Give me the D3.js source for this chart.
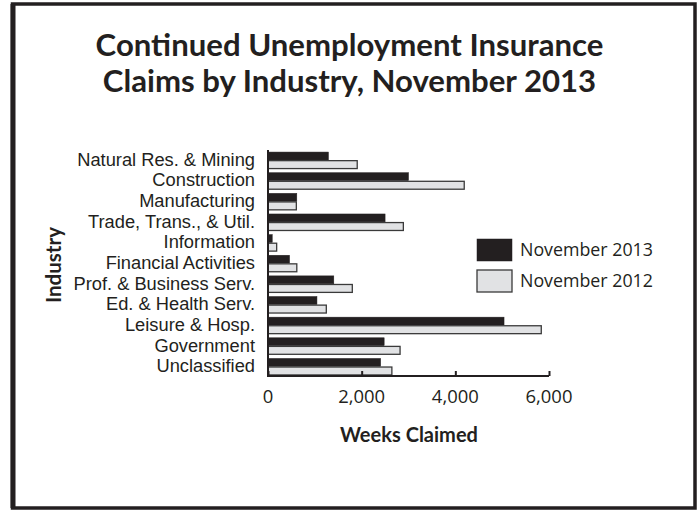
<!DOCTYPE html>
<html>
<head>
<meta charset="utf-8">
<script src="https://cdn.jsdelivr.net/npm/d3@7"></script>
<style>
  html, body { margin: 0; padding: 0; background: #fff; }
  svg { display: block; }
  text { font-family: "Open Sans", "Noto Sans", sans-serif; fill: #231f20; }
  text.bold { font-family: Lato, "Open Sans", sans-serif; font-weight: 700; }
  text.cat { font-family: "Liberation Sans", Arial, sans-serif; }
</style>
</head>
<body>
<svg id="chart" width="698" height="510"></svg>
<script>
const categories = ["Natural Res. & Mining", "Construction", "Manufacturing", "Trade, Trans., & Util.",
  "Information", "Financial Activities", "Prof. & Business Serv.", "Ed. & Health Serv.",
  "Leisure & Hosp.", "Government", "Unclassified"];
const seriesNames = ["November 2013", "November 2012"];
const nov2013 = [1290, 3000, 615, 2500, 90, 460, 1405, 1045, 5040, 2480, 2405];
const nov2012 = [1905, 4190, 605, 2890, 185, 615, 1800, 1245, 5835, 2820, 2645];
const xTicks = [0, 2000, 4000, 6000];
const titleLines = ["Continued Unemployment Insurance", "Claims by Industry, November 2013"];
const xTitle = "Weeks Claimed";
const yTitle = "Industry";

const dark = "#231f20";
const light = "#e1e2e4";
const svg = d3.select("#chart");

function fit(sel, target, maxSize) {
  const base = 20;
  sel.attr("font-size", base);
  const len = sel.node().getComputedTextLength();
  let size = base * target / len;
  if (maxSize) size = Math.min(size, maxSize);
  sel.attr("font-size", size);
  return size;
}

// frame
svg.append("rect").attr("x", 12.5).attr("y", 4).attr("width", 682.5).attr("height", 504)
  .attr("fill", "none").attr("stroke", dark).attr("stroke-width", 3.5);
svg.append("line").attr("x1", 13).attr("x2", 13).attr("y1", 4).attr("y2", 508)
  .attr("stroke", dark).attr("stroke-width", 5);

// title
const t1 = svg.append("text").attr("class", "bold").attr("x", 349.5).attr("y", 56)
  .attr("text-anchor", "middle").text(titleLines[0]);
const tSize = fit(t1, 508);
svg.append("text").attr("class", "bold").attr("x", 349.5).attr("y", 92)
  .attr("text-anchor", "middle").attr("font-size", tSize).text(titleLines[1]);

const x = d3.scaleLinear().domain([0, 6000]).range([268, 549]);
const y = d3.scaleBand().domain(categories).range([150, 377]).paddingInner(0.2).paddingOuter(0.1);
const y1 = d3.scaleBand().domain(seriesNames).range([0, y.bandwidth()]).paddingInner(0.08);

const rows = categories.map((c, i) => ({ c, v: [nov2013[i], nov2012[i]] }));

const g = svg.append("g");
rows.forEach(r => {
  seriesNames.forEach((s, j) => {
    g.append("rect")
      .attr("x", x(0))
      .attr("y", y(r.c) + y1(s))
      .attr("width", x(r.v[j]) - x(0))
      .attr("height", y1.bandwidth())
      .attr("fill", j === 0 ? dark : light)
      .attr("stroke", j === 0 ? dark : "#3a3a3a")
      .attr("stroke-width", j === 0 ? 0.5 : 1.3);
  });
});

// category labels
const labels = svg.append("g").selectAll("text").data(categories).join("text")
  .attr("class", "cat")
  .attr("x", 255).attr("y", d => y(d) + y.bandwidth() / 2 + 5.5)
  .attr("text-anchor", "end").text(d => d);
const lSize = fit(d3.select(labels.nodes()[0]), 180, 18.3);
labels.attr("font-size", lSize);

// x axis
const xAxis = svg.append("g").attr("transform", "translate(0,376)")
  .call(d3.axisBottom(x).tickValues(xTicks).tickSize(-5).tickFormat(""));
xAxis.select(".domain").attr("stroke", dark).attr("stroke-width", 2).attr("d", "M268,0H549");
xAxis.selectAll(".tick line").attr("stroke", dark).attr("stroke-width", 2);

const tickLabels = svg.append("g").selectAll("text").data(xTicks).join("text")
  .attr("x", d => x(d)).attr("y", 403).attr("text-anchor", "middle")
  .text(d => d3.format(",")(d));
const tkSize = fit(d3.select(tickLabels.nodes()[1]), 47);
tickLabels.attr("font-size", tkSize);

// y axis line
svg.append("line").attr("x1", 268).attr("x2", 268).attr("y1", 150).attr("y2", 377)
  .attr("stroke", dark).attr("stroke-width", 2);

// axis titles
const xt = svg.append("text").attr("class", "bold").attr("x", 409).attr("y", 442)
  .attr("text-anchor", "middle").text(xTitle);
fit(xt, 138);
const yt = svg.append("text").attr("class", "bold").attr("transform", "translate(61,265) rotate(-90)")
  .attr("text-anchor", "middle").text(yTitle);
fit(yt, 76);

// legend
const leg = svg.append("g");
seriesNames.forEach((s, j) => {
  leg.append("rect").attr("x", 477).attr("y", 239 + j * 31).attr("width", 35).attr("height", 22)
    .attr("fill", j === 0 ? dark : light).attr("stroke", j === 0 ? dark : "#3a3a3a")
    .attr("stroke-width", j === 0 ? 0.5 : 1.3);
});
const legTexts = leg.selectAll("text").data(seriesNames).join("text")
  .attr("x", 520).attr("y", (d, j) => 256 + j * 31).text(d => d);
const lgSize = fit(d3.select(legTexts.nodes()[0]), 133);
legTexts.attr("font-size", lgSize);
</script>
</body>
</html>
